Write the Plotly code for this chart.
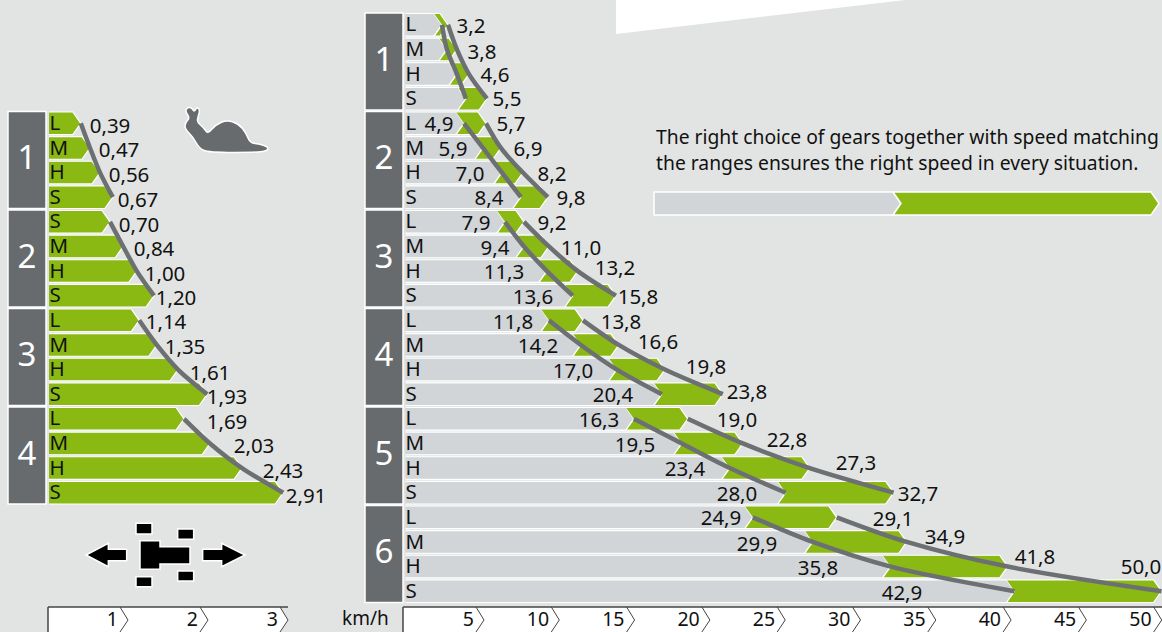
import plotly.graph_objects as go

W, H = 1162, 632
FONT = "Noto Sans"
BG, GREEN, GREY, BLOCK, CURVE, INK = "#e2e4e3", "#8ab914", "#d1d5d8", "#676b6e", "#6d7073", "#111111"

# ---- data -------------------------------------------------------------
gears_left = ["1", "2", "3", "4"]
gears_right = ["1", "2", "3", "4", "5", "6"]
ranges_left = ["L", "M", "H", "S", "S", "M", "H", "S", "L", "M", "H", "S", "L", "M", "H", "S"]
ranges_right = ["L", "M", "H", "S"] * 6

# creep speeds: drawn bar ends on the 0-3 km/h axis and the printed values
left_ends = [0.41, 0.525, 0.65, 0.81, 0.775, 0.94, 1.11, 1.325,
             1.14, 1.36, 1.625, 1.99, 1.70, 2.025, 2.425, 2.94]
left_labels = ["0,39", "0,47", "0,56", "0,67", "0,70", "0,84", "1,00", "1,20",
               "1,14", "1,35", "1,61", "1,93", "1,69", "2,03", "2,43", "2,91"]

# field speeds: drawn band limits on the 0-50 km/h axis and the printed values
right_low = [2.21, 2.54, 3.2, 3.8, 3.67, 4.93, 6.19, 7.45,
             6.39, 7.65, 9.18, 10.9, 9.31, 11.43, 13.82, 16.81,
             14.95, 18.14, 21.32, 25.04, 22.85, 26.83, 32.0, 40.23]
right_high = [2.61, 3.2, 4.0, 5.2, 5.13, 6.12, 7.58, 9.24,
              7.65, 9.31, 11.23, 13.76, 11.57, 13.95, 17.01, 20.86,
              18.53, 22.18, 26.63, 32.2, 28.42, 33.07, 39.77, 49.99]
low_labels = ["", "", "", "", "4,9", "5,9", "7,0", "8,4",
              "7,9", "9,4", "11,3", "13,6", "11,8", "14,2", "17,0", "20,4",
              "16,3", "19,5", "23,4", "28,0", "24,9", "29,9", "35,8", "42,9"]
high_labels = ["3,2", "3,8", "4,6", "5,5", "5,7", "6,9", "8,2", "9,8",
               "9,2", "11,0", "13,2", "15,8", "13,8", "16,6", "19,8", "23,8",
               "19,0", "22,8", "27,3", "32,7", "29,1", "34,9", "41,8", "50,0"]

left_ticks = [1, 2, 3]
right_ticks = [5, 10, 15, 20, 25, 30, 35, 40, 45, 50]

# ---- text placement (page pixels of label centres) ---------------------
left_label_px = [110, 119, 129, 138, 139, 154, 165, 176, 166, 185, 210, 227, 227, 254, 283, 306]
left_label_py = [126, 150, 175, 200, 225, 249, 274, 298, 322, 347, 373, 397, 422, 446, 471, 496]
low_label_px = [439, 439, 439, 439, 439, 453, 470, 489, 476, 495, 504, 533, 513, 538, 573, 613,
                599, 635, 685, 737, 721, 757, 818, 902]
low_label_py = [124, 124, 124, 124, 124, 149, 174, 198, 223, 248, 272, 297, 322, 346, 371, 395,
                420, 445, 469, 494, 518, 544, 568, 593]
high_label_px = [471, 482, 495, 507, 511, 528, 552, 571, 552, 581, 615, 638, 621, 658, 706, 747,
                 737, 787, 856, 918, 893, 945, 1035, 1141]
high_label_py = [26, 52, 75, 99, 124, 149, 174, 198, 223, 248, 268, 297, 322, 342, 367, 392,
                 420, 440, 463, 494, 519, 537, 557, 567]

# ---- scales ------------------------------------------------------------
ROW, TOP = 24.625, 13.0
AXIS_PY = 607
LX0, LS = 48.0, 80.0
RX0, RS = 408.7, 15.06
BAR_TOP, BAR_BOT = 0.02, 0.94
LABEL_SIZE = 20.5
TEXT_DY = 1.5


def row_of(py):
    return (py - TOP) / ROW


def lx(px):
    return (px - LX0) / LS


def rx(px):
    return (px - RX0) / RS


def px_(x):
    return x / W


def py_(y):
    return 1 - y / H


def poly_path(points):
    return "M" + " L".join(f"{px_(a):.5f},{py_(b):.5f}" for a, b in points) + " Z"


def smooth_path(points):
    n = len(points)
    mids = [((points[i][0] + points[(i + 1) % n][0]) / 2, (points[i][1] + points[(i + 1) % n][1]) / 2) for i in range(n)]
    d = f"M{px_(mids[-1][0]):.5f},{py_(mids[-1][1]):.5f}"
    for i in range(n):
        d += f" Q{px_(points[i][0]):.5f},{py_(points[i][1]):.5f} {px_(mids[i][0]):.5f},{py_(mids[i][1]):.5f}"
    return d + " Z"


fig = go.Figure()


def add_polys(polys, color, xaxis):
    xs, ys = [], []
    for p in polys:
        xs += [a for a, _ in p] + [None]
        ys += [b for _, b in p] + [None]
    fig.add_trace(go.Scatter(x=xs, y=ys, xaxis=xaxis, yaxis="y", mode="lines", fill="toself",
                             fillcolor=color, line=dict(color="white", width=1.2),
                             hoverinfo="skip", showlegend=False))


def add_texts(xs, ys, texts, xaxis, pos="middle center", size=LABEL_SIZE, color=INK):
    fig.add_trace(go.Scatter(x=xs, y=ys, text=texts, xaxis=xaxis, yaxis="y", mode="text",
                             textposition=pos, cliponaxis=False,
                             textfont=dict(family=FONT, size=size, color=color),
                             hoverinfo="skip", showlegend=False))


# left chart bars
OFFSET_L = 4
wl = 8 / LS
start_l = 0.0125
polys = []
for i, e in enumerate(left_ends):
    r = i + OFFSET_L
    polys.append([(start_l, r + BAR_TOP), (e - wl, r + BAR_TOP), (e, (r + BAR_TOP + r + BAR_BOT) / 2),
                  (e - wl, r + BAR_BOT), (start_l, r + BAR_BOT)])
add_polys(polys, GREEN, "x")

# right chart bars
wr = 8 / RS
start_r = rx(405.5)
grey, green = [], []
for r, (lo, hi) in enumerate(zip(right_low, right_high)):
    t, b = r + BAR_TOP, r + BAR_BOT
    m = (t + b) / 2
    grey.append([(start_r, t), (lo - wr, t), (lo, m), (lo - wr, b), (start_r, b)])
    green.append([(lo - wr, t), (hi - wr, t), (hi, m), (hi - wr, b), (lo - wr, b), (lo, m)])
add_polys(grey, GREY, "x2")
add_polys(green, GREEN, "x2")

# curves joining the range limits of each gear
for g in range(4):
    idx = list(range(g * 4, g * 4 + 4))
    fig.add_trace(go.Scatter(x=[left_ends[i] for i in idx], y=[i + OFFSET_L + 0.48 for i in idx],
                             xaxis="x", yaxis="y", mode="lines",
                             line=dict(color=CURVE, width=4.5, shape="spline", smoothing=0.9),
                             hoverinfo="skip", showlegend=False))
for g in range(6):
    idx = list(range(g * 4, g * 4 + 4))
    for arr in (right_low, right_high):
        fig.add_trace(go.Scatter(x=[arr[i] for i in idx], y=[i + 0.48 for i in idx],
                                 xaxis="x2", yaxis="y", mode="lines",
                                 line=dict(color=CURVE, width=4.5, shape="spline", smoothing=0.9),
                                 hoverinfo="skip", showlegend=False))

# value labels
add_texts([lx(p) for p in left_label_px], [row_of(p + TEXT_DY) for p in left_label_py], left_labels, "x")
add_texts([rx(p) for p in low_label_px], [row_of(p + TEXT_DY) for p in low_label_py], low_labels, "x2")
add_texts([rx(p) for p in high_label_px], [row_of(p + TEXT_DY) for p in high_label_py], high_labels, "x2")

# range letters
add_texts([lx(49.5)] * len(ranges_left), [i + OFFSET_L + 0.54 for i in range(len(ranges_left))],
          ranges_left, "x", pos="middle right")
add_texts([rx(405.5)] * len(ranges_right), [i + 0.54 for i in range(len(ranges_right))],
          ranges_right, "x2", pos="middle right")

# gear numbers
add_texts([lx(27)] * 4, [OFFSET_L + 4 * i + 2.02 for i in range(4)], gears_left, "x", size=33, color="white")
add_texts([rx(384)] * 6, [4 * i + 2.02 for i in range(6)], gears_right, "x2", size=33, color="white")

# ---- decorative shapes --------------------------------------------------
shapes = []


def shape_px(points, fill, line="white", width=1.5, layer="below"):
    shapes.append(dict(type="path", xref="paper", yref="paper", path=poly_path(points),
                       fillcolor=fill, line=dict(color=line, width=width), layer=layer))


shape_px([(616, 0), (905, 0), (616, 34)], "white", line="white", width=0)

# gear blocks
for i in range(4):
    a = TOP + ROW * (OFFSET_L + 4 * i)
    shape_px([(8, a), (46, a), (46, a + 3.94 * ROW), (8, a + 3.94 * ROW)], BLOCK)
for i in range(6):
    a = TOP + ROW * (4 * i)
    shape_px([(365, a), (403, a), (403, a + 3.94 * ROW), (365, a + 3.94 * ROW)], BLOCK)

# legend bar
shape_px([(654, 192), (893, 192), (901, 203.5), (893, 215), (654, 215)], GREY)
shape_px([(893, 192), (1151, 192), (1159, 203.5), (1151, 215), (893, 215), (901, 203.5)], GREEN)

# snail
snail = [(268, 150), (260, 152.5), (208, 152.5), (199, 148), (193, 137), (185, 129), (185, 123), (190, 118),
         (185, 111), (188, 107), (192, 108), (194, 112), (197, 107), (200, 110), (198, 117), (197, 122),
         (204, 128), (208, 134), (215, 125), (227, 120), (239, 124), (246, 133), (250, 143), (260, 144), (268, 147)]
shapes.append(dict(type="path", xref="paper", yref="paper", path=smooth_path(snail),
                   fillcolor=BLOCK, line=dict(color="white", width=1.5), layer="below"))


# tractor and arrows
def tr(points):
    return [(a / 3, 370 + b / 3) for a, b in points]


black = "#000000"
shape_px(tr([(258, 555), (325, 520), (325, 538), (380, 538), (380, 572), (325, 572), (325, 590)]), black)
shape_px(tr([(735, 555), (665, 520), (665, 538), (608, 538), (608, 572), (665, 572), (665, 590)]), black)
shape_px(tr([(420, 512), (480, 512), (480, 530), (570, 530), (570, 582), (480, 582), (480, 598), (420, 598)]), black)
for a, b, c, d in [(408, 460, 456, 492), (533, 477, 581, 508), (533, 603, 581, 633), (408, 620, 456, 650)]:
    shape_px(tr([(a, b), (c, b), (c, d), (a, d)]), black)

# axis boxes
edge = "#444444"
shape_px([(48, AXIS_PY), (280, AXIS_PY), (288, 620), (280, H), (48, H)], "white", line="white", width=0)
shape_px([(403, AXIS_PY), (W, AXIS_PY), (W, H), (403, H)], "white", line="white", width=0)
for x_ in (48, 403):
    shapes.append(dict(type="line", xref="paper", yref="paper", x0=px_(x_), x1=px_(x_), y0=py_(AXIS_PY), y1=0,
                       line=dict(color=edge, width=1.5), layer="above"))
for a_, b_ in ((48, 288), (403, W)):
    shapes.append(dict(type="line", xref="paper", yref="paper", x0=px_(a_), x1=px_(b_), y0=py_(AXIS_PY), y1=py_(AXIS_PY),
                       line=dict(color=edge, width=1.5), layer="above"))
for t in left_ticks:
    shapes.append(dict(type="path", xref="x", yref="paper", layer="above", line=dict(color=edge, width=1),
                       path=f"M{t - wl},{py_(AXIS_PY)} L{t},{py_(620)} L{t - wl},{py_(H)}"))
for t in right_ticks:
    shapes.append(dict(type="path", xref="x2", yref="paper", layer="above", line=dict(color=edge, width=1),
                       path=f"M{t - wr},{py_(AXIS_PY)} L{t},{py_(620)} L{t - wr},{py_(H)}"))


def axis(domain, rng, ticks):
    return dict(domain=domain, range=rng, anchor="y", showgrid=False, zeroline=False, showline=False,
                automargin=False, tickmode="array", tickvals=ticks,
                ticktext=[f"{t}\u00a0\u00a0" for t in ticks], ticks="", ticklabelposition="outside left",
                ticklabelstandoff=-2,
                tickfont=dict(family=FONT, size=19.5, color=INK), fixedrange=True)


fig.update_layout(
    width=W, height=H, autosize=False, margin=dict(l=0, r=0, t=0, b=0),
    paper_bgcolor=BG, plot_bgcolor="rgba(0,0,0,0)", showlegend=False,
    xaxis=axis([px_(8), px_(340)], [lx(8), lx(340)], left_ticks),
    xaxis2=axis([px_(360), 1.0], [rx(360), rx(W)], right_ticks),
    yaxis=dict(domain=[py_(AXIS_PY), 1], range=[row_of(AXIS_PY), row_of(0)], visible=False, fixedrange=True),
    shapes=shapes,
    annotations=[
        dict(x=px_(654), y=py_(136.5), xref="paper", yref="paper", xanchor="left", yanchor="middle", showarrow=False,
             text="The right choice of gears together with speed matching",
             font=dict(family=FONT, size=19.3, color=INK)),
        dict(x=px_(654), y=py_(162), xref="paper", yref="paper", xanchor="left", yanchor="middle", showarrow=False,
             text="the ranges ensures the right speed in every situation.",
             font=dict(family=FONT, size=19.3, color=INK)),
        dict(x=px_(365), y=py_(618), xref="paper", yref="paper", xanchor="center", yanchor="middle", showarrow=False,
             text="km/h", font=dict(family=FONT, size=19, color=INK)),
    ],
)

fig.write_html("out.html", config={"displayModeBar": False},
               post_script="document.body.style.margin='0';document.body.style.overflow='hidden';")
